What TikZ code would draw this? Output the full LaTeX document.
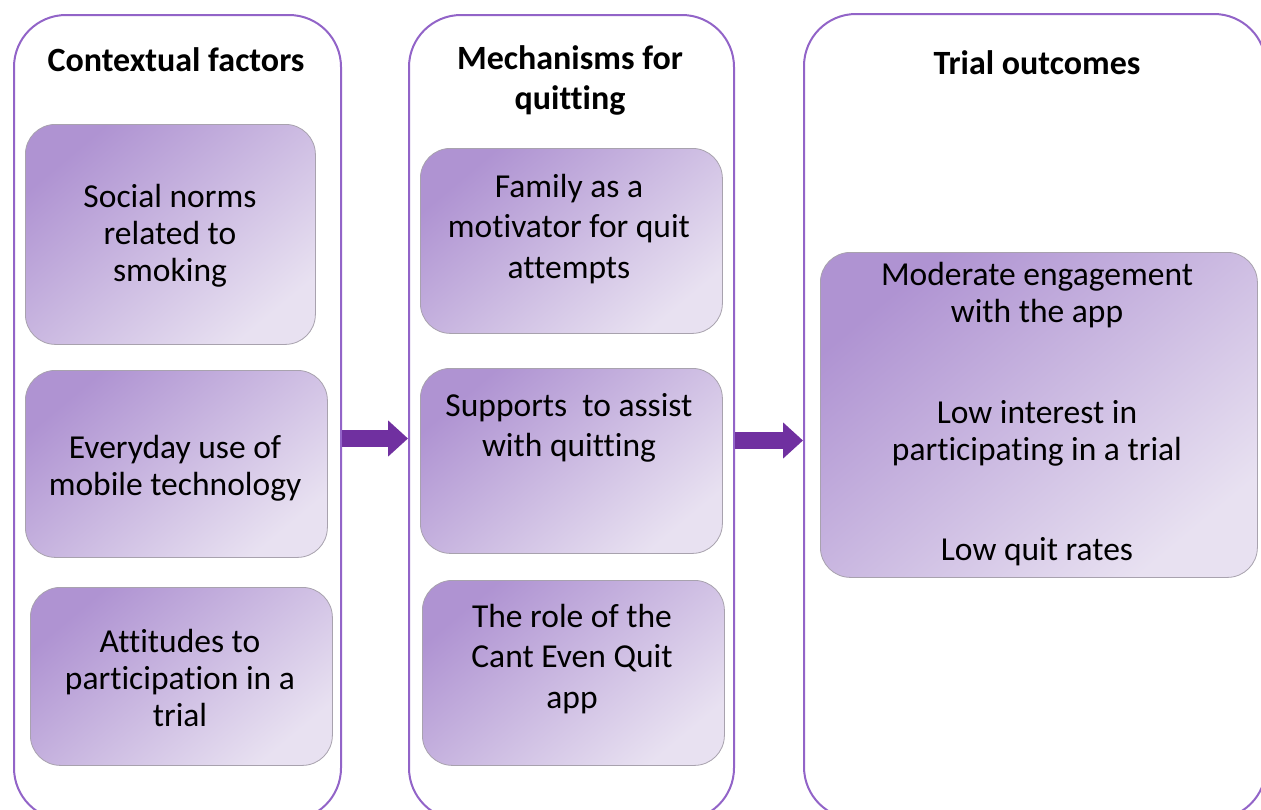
\documentclass[tikz,border=0pt]{standalone}
\usepackage{fontspec}
\setmainfont{Carlito}[Ligatures=NoCommon]
\usetikzlibrary{arrows.meta}
\definecolor{panelc}{HTML}{9264C8}
\definecolor{arrowc}{HTML}{7030A0}
\definecolor{boxdark}{HTML}{AF93D2}
\definecolor{boxlight}{HTML}{E8E1F1}
\definecolor{boxedge}{HTML}{A8A2AE}
\begin{document}
\begin{tikzpicture}[x=1pt,y=-1pt,
  panel/.style={draw=panelc, line width=2pt, rounded corners=52pt, anchor=north west, inner sep=0pt},
  ibox/.style={draw=boxedge, line width=0.8pt, rounded corners=30pt, top color=boxdark, bottom color=boxlight, shading angle=40, anchor=north west, inner sep=0pt},
  head/.style={font=\fontsize{34}{40}\selectfont\bfseries, align=center, inner sep=0pt},
  ltext/.style={font=\fontsize{33.5}{37}\selectfont, align=center, inner sep=0pt},
  mtext/.style={font=\fontsize{33.5}{40.5}\selectfont, align=center, inner sep=0pt},
  rtext/.style={font=\fontsize{33.5}{37}\selectfont, align=center, inner sep=0pt},
  bigarrow/.style={draw=arrowc, line width=17pt, -{Triangle[width=35pt,length=20pt]}}
]
\useasboundingbox (0,0) rectangle (1261,809);
\clip (0,0) rectangle (1261,809);
\fill[white] (0,0) rectangle (1261,809);

% panels
\node[panel, minimum width=327pt, minimum height=805pt] (p1) at (13,14) {};
\node[panel, minimum width=325pt, minimum height=805pt] (p2) at (408,14) {};
\node[panel, minimum width=462pt, minimum height=805pt] (p3) at (803,13) {};

% headers
\node[head] (h1) at (176,60) {Contextual factors};
\node[head] (h2) at (570,80) {Mechanisms for\\quitting};
\node[head] (h3) at (1037,63) {Trial outcomes};

% left column
\node[ibox, minimum width=290pt, minimum height=220pt] (l1) at (25,124) {};
\node[ltext] (l1t) at (170,236) {Social norms\\related to\\smoking};
\node[ibox, minimum width=302pt, minimum height=187pt] (l2) at (25,370) {};
\node[ltext] (l2t) at (175,468) {Everyday use of\\mobile technology};
\node[ibox, minimum width=302pt, minimum height=178pt] (l3) at (30,587) {};
\node[ltext] (l3t) at (180,678) {Attitudes to\\participation in a\\trial};

% middle column
\node[ibox, minimum width=302pt, minimum height=185pt] (m1) at (420,148) {};
\node[mtext] (m1t) at (569,229) {Family as a\\motivator for quit\\attempts};
\node[ibox, minimum width=302pt, minimum height=185pt] (m2) at (420,368) {};
\node[mtext] (m2t) at (569,428) {Supports\ \ to assist\\with quitting};
\node[ibox, minimum width=302pt, minimum height=185pt] (m3) at (422,580) {};
\node[mtext] (m3t) at (572,659) {The role of the\\Cant Even Quit\\app};

% right column
\node[ibox, minimum width=437pt, minimum height=325pt] (r1) at (820,252) {};
\node[rtext] (r1t) at (1037,414) {Moderate engagement\\with the app\\[64pt]Low interest in\\participating in a trial\\[63pt]Low quit rates};

% arrows
\coordinate (a1s) at ([yshift=-21pt]p1.east);
\coordinate (a2s) at ([yshift=-23pt]p2.east);
\draw[bigarrow] (a1s) -- (a1s -| p2.west);
\draw[bigarrow] (a2s) -- (a2s -| p3.west);
\end{tikzpicture}
\end{document}
